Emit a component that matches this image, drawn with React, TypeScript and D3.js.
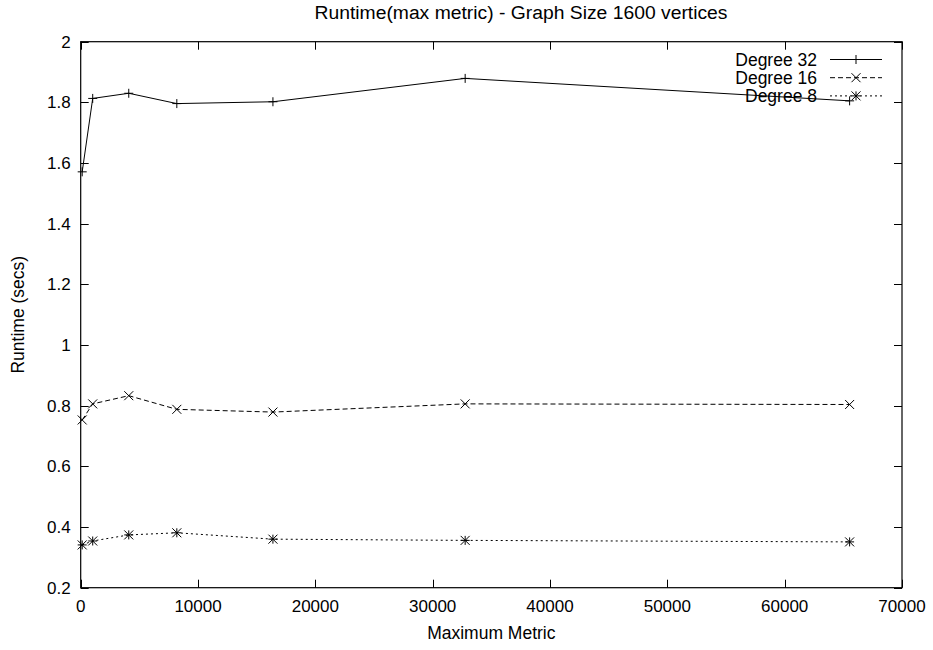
import React, { useEffect, useRef } from "react";
import * as d3 from "d3";

const metric = [128, 1024, 4096, 8192, 16384, 32768, 65536];
const degree32 = [1.571, 1.813, 1.83, 1.796, 1.802, 1.879, 1.805];
const degree16 = [0.753, 0.806, 0.833, 0.788, 0.779, 0.806, 0.804];
const degree8 = [0.341, 0.354, 0.374, 0.381, 0.36, 0.356, 0.351];
const seriesNames = ["Degree 32", "Degree 16", "Degree 8"];
const xTicks = [0, 10000, 20000, 30000, 40000, 50000, 60000, 70000];
const yTicks = [0.2, 0.4, 0.6, 0.8, 1, 1.2, 1.4, 1.6, 1.8, 2];

const W = 933;
const H = 650;
const FONT = "'Liberation Sans', Arial, Helvetica, sans-serif";

type MarkerKind = "plus" | "cross" | "star";

function markerPath(kind: MarkerKind, cx: number, cy: number, r = 4.5) {
  const plus = `M${cx - r},${cy}H${cx + r}M${cx},${cy - r}V${cy + r}`;
  const cross = `M${cx - r},${cy - r}L${cx + r},${cy + r}M${cx - r},${cy + r}L${cx + r},${cy - r}`;
  if (kind === "plus") return plus;
  if (kind === "cross") return cross;
  return plus + cross;
}

export default function App() {
  const ref = useRef<SVGSVGElement | null>(null);

  useEffect(() => {
    const svg = d3.select(ref.current);
    svg.selectAll("*").remove();

    const left = 80.7, right = 902, top = 41.7, bottom = 587.7;
    const x = d3.scaleLinear().domain([0, 70000]).range([left, right]);
    const y = d3.scaleLinear().domain([0.2, 2]).range([bottom, top]);
    const tickLen = 8;

    const g = svg.append("g");

    // title
    g.append("text")
      .attr("x", 521)
      .attr("y", 19)
      .attr("text-anchor", "middle")
      .attr("font-family", FONT)
      .attr("font-size", 18)
      .attr("textLength", 413)
      .attr("lengthAdjust", "spacingAndGlyphs")
      .text("Runtime(max metric) - Graph Size 1600 vertices");

    // ticks, mirrored on both sides and pointing inward
    const ticks = g.append("g").attr("stroke", "#000").attr("stroke-width", 1);
    yTicks.forEach((t) => {
      const yy = Math.round(y(t)) + 0.5;
      ticks.append("line").attr("x1", left).attr("x2", left + tickLen).attr("y1", yy).attr("y2", yy);
      ticks.append("line").attr("x1", right).attr("x2", right - tickLen).attr("y1", yy).attr("y2", yy);
    });
    xTicks.forEach((t) => {
      const xx = Math.round(x(t)) + 0.5;
      ticks.append("line").attr("x1", xx).attr("x2", xx).attr("y1", bottom).attr("y2", bottom - tickLen);
      ticks.append("line").attr("x1", xx).attr("x2", xx).attr("y1", top).attr("y2", top + tickLen);
    });

    // tick labels
    const fmtY = (v: number) => (Number.isInteger(v) ? String(v) : v.toFixed(1));
    g.append("g")
      .selectAll("text")
      .data(yTicks)
      .join("text")
      .attr("x", left - 10)
      .attr("y", (d) => y(d))
      .attr("dy", "0.36em")
      .attr("text-anchor", "end")
      .attr("font-family", FONT)
      .attr("font-size", 17)
      .text((d) => fmtY(d));

    g.append("g")
      .selectAll("text")
      .data(xTicks)
      .join("text")
      .attr("x", (d) => x(d))
      .attr("y", bottom + 24)
      .attr("text-anchor", "middle")
      .attr("font-family", FONT)
      .attr("font-size", 17)
      .text((d) => String(d));

    // axis titles
    g.append("text")
      .attr("x", (left + right) / 2)
      .attr("y", 639)
      .attr("text-anchor", "middle")
      .attr("font-family", FONT)
      .attr("font-size", 17.5)
      .text("Maximum Metric");

    g.append("text")
      .attr("transform", `translate(24,${(top + bottom) / 2}) rotate(-90)`)
      .attr("text-anchor", "middle")
      .attr("font-family", FONT)
      .attr("font-size", 17.5)
      .text("Runtime (secs)");

    // series
    const all = [
      { name: seriesNames[0], values: degree32, dash: null as string | null, marker: "plus" as MarkerKind },
      { name: seriesNames[1], values: degree16, dash: "5,3", marker: "cross" as MarkerKind },
      { name: seriesNames[2], values: degree8, dash: "2,3", marker: "star" as MarkerKind },
    ];

    const line = d3
      .line<number>()
      .x((_, i) => x(metric[i]))
      .y((d) => y(d));

    all.forEach((s) => {
      g.append("path")
        .attr("d", line(s.values))
        .attr("fill", "none")
        .attr("stroke", "#000")
        .attr("stroke-width", 1)
        .attr("stroke-dasharray", s.dash);
      g.append("path")
        .attr("d", s.values.map((v, i) => markerPath(s.marker, x(metric[i]), y(v))).join(""))
        .attr("fill", "none")
        .attr("stroke", "#000")
        .attr("stroke-width", 1);
    });

    // legend
    const legendTextRight = 817;
    const sampleX0 = 830, sampleX1 = 882;
    all.forEach((s, i) => {
      const ly = 59.5 + i * 18.2;
      g.append("text")
        .attr("x", legendTextRight)
        .attr("y", ly)
        .attr("dy", "0.36em")
        .attr("text-anchor", "end")
        .attr("font-family", FONT)
        .attr("font-size", 17.5)
        .text(s.name);
      g.append("line")
        .attr("x1", sampleX0)
        .attr("x2", sampleX1)
        .attr("y1", ly)
        .attr("y2", ly)
        .attr("stroke", "#000")
        .attr("stroke-width", 1)
        .attr("stroke-dasharray", s.dash);
      g.append("path")
        .attr("d", markerPath(s.marker, (sampleX0 + sampleX1) / 2, ly))
        .attr("fill", "none")
        .attr("stroke", "#000")
        .attr("stroke-width", 1);
    });

    // frame
    g.append("rect")
      .attr("x", left)
      .attr("y", top)
      .attr("width", right - left)
      .attr("height", bottom - top)
      .attr("fill", "none")
      .attr("stroke", "#000")
      .attr("stroke-width", 1.2);
  }, []);

  return (
    <svg
      ref={ref}
      width={W}
      height={H}
      style={{ position: "absolute", left: 0, top: 0, background: "#fff" }}
    />
  );
}
